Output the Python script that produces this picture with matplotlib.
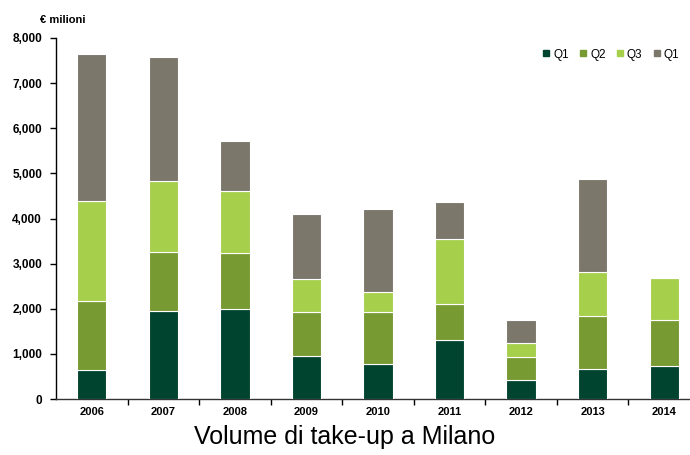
import numpy as np
import matplotlib
matplotlib.use("Agg")
import matplotlib.pyplot as plt
from matplotlib.lines import Line2D

# volumi trimestrali di take-up a Milano (€ milioni)
years = ["2006", "2007", "2008", "2009", "2010", "2011", "2012", "2013", "2014"]
q1 = [650, 1950, 2005, 960, 765, 1300, 430, 655, 730]
q2 = [1525, 1310, 1230, 965, 1160, 800, 505, 1190, 1025]
q3 = [2205, 1565, 1385, 725, 455, 1440, 310, 970, 925]
q4 = [3270, 2765, 1100, 1450, 1825, 830, 500, 2065, 0]

series = [("Q1", q1, "#00432f"), ("Q2", q2, "#789a33"),
          ("Q3", q3, "#a6cf4c"), ("Q4", q4, "#7b776b")]
legend_labels = ["Q1", "Q2", "Q3", "Q1"]

plt.rcParams["font.family"] = ["Liberation Sans", "DejaVu Sans"]

fig = plt.figure(figsize=(6.9, 4.55), dpi=100)
ax = fig.add_axes([56 / 690, 1 - 399 / 455, 634 / 690, 361 / 455])

x = np.arange(len(years))
bottom = np.zeros(len(years))
for name, vals, col in series:
    vals = np.array(vals, dtype=float)
    ax.bar(x, vals, width=0.41, bottom=bottom, color=col,
           edgecolor="white", linewidth=0.8, zorder=3)
    bottom += vals

ax.set_xlim(-0.5, 8.36)
ax.set_ylim(0, 8000)
ax.set_yticks(range(0, 8001, 1000))
ax.set_yticklabels([f"{v:,}" for v in range(0, 8001, 1000)],
                   fontsize=8.5, fontweight="bold")

# tacche tra le categorie, etichette centrate sotto le barre
ax.set_xticks(x[:-1] + 0.5)
ax.set_xticklabels([])
ax.set_xticks(x, minor=True)
ax.set_xticklabels(years, minor=True, fontsize=8, fontweight="bold")
ax.tick_params(axis="x", which="major", length=4, width=1, direction="out")
ax.tick_params(axis="x", which="minor", length=0, pad=6)
ax.tick_params(axis="y", length=4, width=1, direction="out", pad=6)

for s in ["top", "right"]:
    ax.spines[s].set_visible(False)
ax.spines["left"].set_linewidth(1)
ax.spines["bottom"].set_linewidth(1)
ax.spines["bottom"].set_color("#333333")

fig.text(40 / 690, 1 - 20 / 455, "€ milioni", fontsize=8, fontweight="bold",
         ha="left", va="center")

handles = [Line2D([], [], marker="s", linestyle="", markersize=4,
                  color=col) for _, _, col in series]
ax.legend(handles, legend_labels, loc="upper right", ncol=4, frameon=False,
          fontsize=8.5, handletextpad=0.0, columnspacing=0.6,
          handlelength=1.2, bbox_to_anchor=(1.0, 1.0))

fig.text(0.5, 1 - 437 / 455, "Volume di take-up a Milano",
         fontsize=18, ha="center", va="center",
         family=["Liberation Sans Narrow", "Liberation Sans", "DejaVu Sans"])

fig.savefig("out.png", dpi=100)
